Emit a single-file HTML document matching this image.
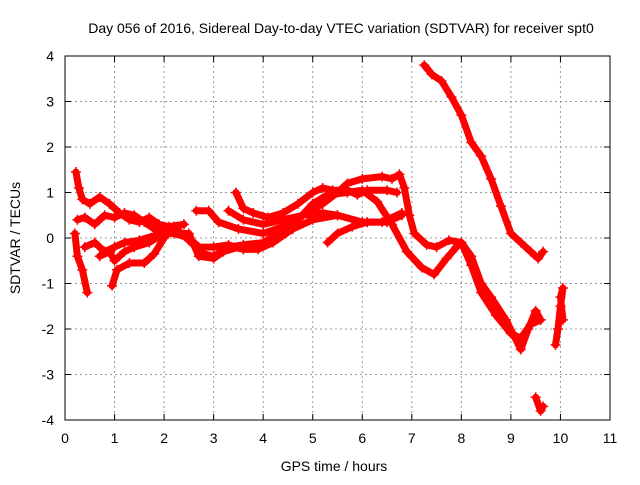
<!DOCTYPE html>
<html><head><meta charset="utf-8"><style>
body{margin:0;background:#fff}
svg text{font-family:"Liberation Sans",sans-serif;font-size:14px;fill:#000}
</style></head><body>
<svg id="c" width="640" height="480" xmlns="http://www.w3.org/2000/svg">
<rect width="640" height="480" fill="#fff"/>
<text x="341" y="33" text-anchor="middle">Day 056 of 2016, Sidereal Day-to-day VTEC variation (SDTVAR) for receiver spt0</text>
<text x="334" y="471" text-anchor="middle">GPS time / hours</text>
<text transform="translate(20,238) rotate(-90)" text-anchor="middle">SDTVAR / TECUs</text>
<g id="grid"></g><g id="marks"></g>
<rect x="65" y="56" width="545" height="364" fill="none" stroke="#000"/>
</svg>
<script>
const xTicks=[0,1,2,3,4,5,6,7,8,9,10,11];
const yTicks=[-4,-3,-2,-1,0,1,2,3,4];
const s1=[[0.22,1.45],[0.28,1.1],[0.35,0.85],[0.5,0.75],[0.7,0.9],[0.9,0.75],[1.1,0.55],[1.3,0.4],[1.5,0.35],[1.7,0.45],[1.9,0.3],[2.1,0.25],[2.4,0.3]];
const s2=[[0.25,0.4],[0.4,0.45],[0.6,0.3],[0.8,0.5],[1.0,0.45],[1.2,0.55],[1.4,0.5],[1.6,0.35],[1.8,0.2],[2.0,0.1],[2.2,0.1],[2.5,0.0],[2.7,-0.2],[3.0,-0.2],[3.3,-0.15],[3.6,-0.25],[3.9,-0.25],[4.2,-0.1],[4.6,0.2],[5.0,0.4],[5.5,0.5],[6.0,0.35],[6.5,0.35],[6.8,0.5]];
const s3=[[0.2,0.1],[0.25,-0.4],[0.35,-0.7],[0.45,-1.2]];
const s4=[[0.4,-0.2],[0.6,-0.1],[0.8,-0.3],[1.0,-0.2],[1.2,-0.1],[1.5,-0.05],[1.8,0.05],[2.0,0.15],[2.3,0.15],[2.5,-0.05],[2.8,-0.35],[3.0,-0.4],[3.3,-0.2],[3.6,-0.15],[4.0,-0.1],[4.3,0.1],[4.7,0.4],[5.0,0.75],[5.3,0.95],[5.7,1.0],[6.0,1.05],[6.3,0.8],[6.6,0.3],[6.9,-0.3],[7.2,-0.65],[7.45,-0.8],[7.7,-0.45],[7.9,-0.2],[8.0,-0.1],[8.2,-0.6],[8.4,-1.2],[8.7,-1.7],[9.0,-2.1],[9.2,-2.2],[9.4,-1.9],[9.6,-1.8]];
const s5=[[0.95,-1.05],[1.05,-0.7],[1.3,-0.55],[1.6,-0.55],[1.8,-0.35],[2.0,0.0],[2.2,0.25],[2.4,0.3]];
const s6=[[0.7,-0.4],[0.9,-0.3],[1.0,-0.5],[1.2,-0.3],[1.4,-0.2],[1.7,-0.1],[2.0,0.1],[2.5,0.1],[2.7,-0.4],[3.0,-0.45],[3.2,-0.3],[3.5,-0.2],[3.8,-0.2]];
const s7=[[2.65,0.6],[2.9,0.6],[3.1,0.35],[3.5,0.2],[4.0,0.1],[4.4,0.25],[4.8,0.5],[5.2,0.75],[5.5,1.0],[5.7,1.2],[6.0,1.3],[6.4,1.35],[6.6,1.3],[6.75,1.4],[6.85,1.1],[6.95,0.5],[7.05,0.1],[7.3,-0.15],[7.5,-0.2],[7.75,-0.05],[8.0,-0.1],[8.2,-0.4],[8.4,-1.0],[8.6,-1.3],[8.9,-1.8],[9.2,-2.45],[9.35,-2.0],[9.5,-1.6],[9.6,-1.8]];
const s8=[[3.45,1.0],[3.6,0.65],[3.8,0.55],[4.1,0.45],[4.4,0.55],[4.7,0.75],[5.0,1.0],[5.2,1.1],[5.4,1.05],[5.7,1.05],[5.9,0.95],[6.1,1.05],[6.5,1.05],[6.7,1.0]];
const s9=[[3.3,0.6],[3.6,0.4],[4.0,0.3],[4.4,0.4],[4.8,0.5],[5.2,0.55],[5.5,0.5]];
const s10=[[5.3,-0.1],[5.5,0.1],[5.8,0.25],[6.1,0.35],[6.4,0.35],[6.8,0.55]];
const s11=[[7.25,3.8],[7.4,3.6],[7.6,3.45],[7.8,3.1],[8.0,2.7],[8.2,2.1],[8.4,1.8],[8.6,1.3],[8.8,0.7],[9.0,0.1],[9.2,-0.1],[9.4,-0.3],[9.55,-0.45],[9.65,-0.3]];
const s12=[[9.5,-3.5],[9.6,-3.8],[9.65,-3.7]];
const s13=[[9.9,-2.35],[9.95,-2.0],[10.0,-1.5],[10.05,-1.1],[10.0,-1.3],[10.05,-1.8]];
const series=[s1,s2,s3,s4,s5,s6,s7,s8,s9,s10,s11,s12,s13];
const X=v=>65+v*545/11, Y=v=>238-v*364/8;
const NS='http://www.w3.org/2000/svg';
const g=document.getElementById('grid'), m=document.getElementById('marks');
function mk(t,a,p){const e=document.createElementNS(NS,t);for(const k in a)e.setAttribute(k,a[k]);p.appendChild(e);return e;}
xTicks.forEach(t=>{const x=X(t);
 if(t>0&&t<11){const l=mk('line',{x1:x,x2:x,y1:56,y2:420,stroke:'#999','stroke-dasharray':'2,3'},g);
 
 }
 mk('line',{x1:x,x2:x,y1:420,y2:414,stroke:'#000'},g);mk('line',{x1:x,x2:x,y1:56,y2:62,stroke:'#000'},g);
 const tx=mk('text',{x:x,y:443,'text-anchor':'middle'},g);tx.textContent=t;
 
 });
yTicks.forEach(t=>{const y=Y(t);
 if(t>-4&&t<4){const l=mk('line',{x1:65,x2:610,y1:y,y2:y,stroke:'#999','stroke-dasharray':'2,3'},g);
 
 }
 mk('line',{x1:65,x2:71,y1:y,y2:y,stroke:'#000'},g);mk('line',{x1:610,x2:604,y1:y,y2:y,stroke:'#000'},g);
 const tx=mk('text',{x:54,y:y+5,'text-anchor':'end'},g);tx.textContent=t;
 
 });
series.forEach((s,i)=>{
 const pl=mk('polyline',{points:s.map(p=>X(p[0])+','+Y(p[1])).join(' '),fill:'none',stroke:'#f00','stroke-width':7,'stroke-linejoin':'round','stroke-linecap':'round'},m);
 
 
 s.forEach(p=>{const x=X(p[0]),y=Y(p[1]);
  const pt=mk('path',{d:`M${x-5},${y}h10M${x},${y-5}v10`,stroke:'#f00','stroke-width':1.5},m);
  
  });
});
</script>
</body></html>
